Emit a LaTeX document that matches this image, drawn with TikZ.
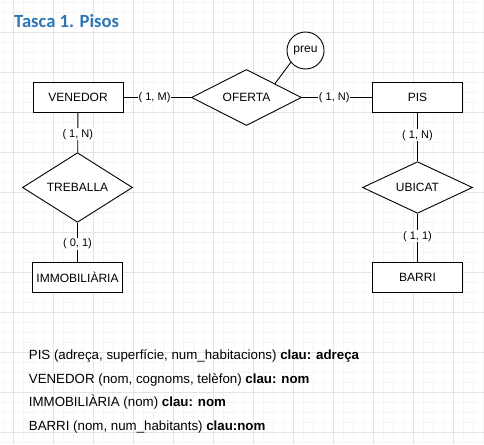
\documentclass[tikz,border=0pt]{standalone}
\usepackage{fontspec}
\setmainfont{Liberation Sans}
\newfontfamily\titlefont{Carlito}
\usetikzlibrary{shapes.geometric}
\definecolor{titleblue}{HTML}{2E75B6}

\begin{document}
\begin{tikzpicture}[
    x=1pt, y=-1pt,
    minorgrid/.style={draw=black!4, line width=0.8},
    majorgrid/.style={draw=black!11, line width=0.8},
    entity/.style={rectangle, draw, line width=0.9, fill=white, minimum width=90, minimum height=30, inner sep=0pt, font=\fontsize{12}{14}\selectfont},
    relation/.style={diamond, draw, line width=0.9, fill=white, minimum width=110, minimum height=50, inner sep=0pt, font=\fontsize{12}{14}\selectfont},
    attribute/.style={circle, draw, line width=0.9, fill=white, minimum size=37, inner sep=0pt, font=\fontsize{12}{14}\selectfont},
    link/.style={draw, line width=0.9},
    card/.style={fill=white, inner sep=1pt, font=\fontsize{11}{13}\selectfont},
    schema/.style={anchor=base west, inner sep=0pt, font=\fontsize{13.3}{16}\selectfont}
]
\useasboundingbox (0,0) rectangle (484,444);

% Background grid
\foreach \x in {3,13,...,483} \draw[minorgrid] (\x,0) -- (\x,444);
\foreach \y in {2,12,...,442} \draw[minorgrid] (0,\y) -- (484,\y);
\foreach \x in {13,53,...,453} \draw[majorgrid] (\x,0) -- (\x,444);
\foreach \y in {32,72,...,432} \draw[majorgrid] (0,\y) -- (484,\y);

\node[anchor=base west, inner sep=0pt, text=titleblue, font=\titlefont\bfseries\fontsize{18.6}{22}\selectfont] (title) at (14,28) {Tasca 1. Pisos};

% Entities and relations
\node[entity] (venedor) at (78,97.5) {VENEDOR};
\node[relation] (oferta) at (246.5,97.5) {OFERTA};
\node[entity] (pis) at (417.5,97.5) {PIS};
\node[attribute] (preu) at (305.5,50.5) {preu};
\node[relation] (treballa) at (77.5,187.5) {TREBALLA};
\node[entity] (immob) at (77.5,277) {IMMOBILIÀRIA};
\node[relation] (ubicat) at (417.5,187.5) {UBICAT};
\node[entity] (barri) at (417.5,277) {BARRI};

% Links with cardinalities
\path[link] (venedor) -- node[card, pos=0.46] {( 1, M)} (oferta);
\path[link] (oferta) -- node[card, pos=0.46] {( 1, N)} (pis);
\path[link] (oferta.26) -- (preu.219);
\path[link] (venedor) -- node[card, pos=0.54] {( 1, N)} (treballa);
\path[link] (treballa) -- node[card, pos=0.54] {( 0, 1)} (immob);
\path[link] (pis) -- node[card, pos=0.46] {( 1, N)} (ubicat);
\path[link] (ubicat) -- node[card, pos=0.47] {( 1, 1)} (barri);

% Relational schema
\node[schema] (s1) at (28.7,359.5) {PIS (adreça, superfície, num\_habitacions) \textbf{clau: adreça}};
\node[schema] (s2) at (28.7,383) {VENEDOR (nom, cognoms, telèfon) \textbf{clau: nom}};
\node[schema] (s3) at (28.7,406.5) {IMMOBILIÀRIA (nom) \textbf{clau: nom}};
\node[schema] (s4) at (28.7,430) {BARRI (nom, num\_habitants) \textbf{clau:nom}};

\end{tikzpicture}
\end{document}
